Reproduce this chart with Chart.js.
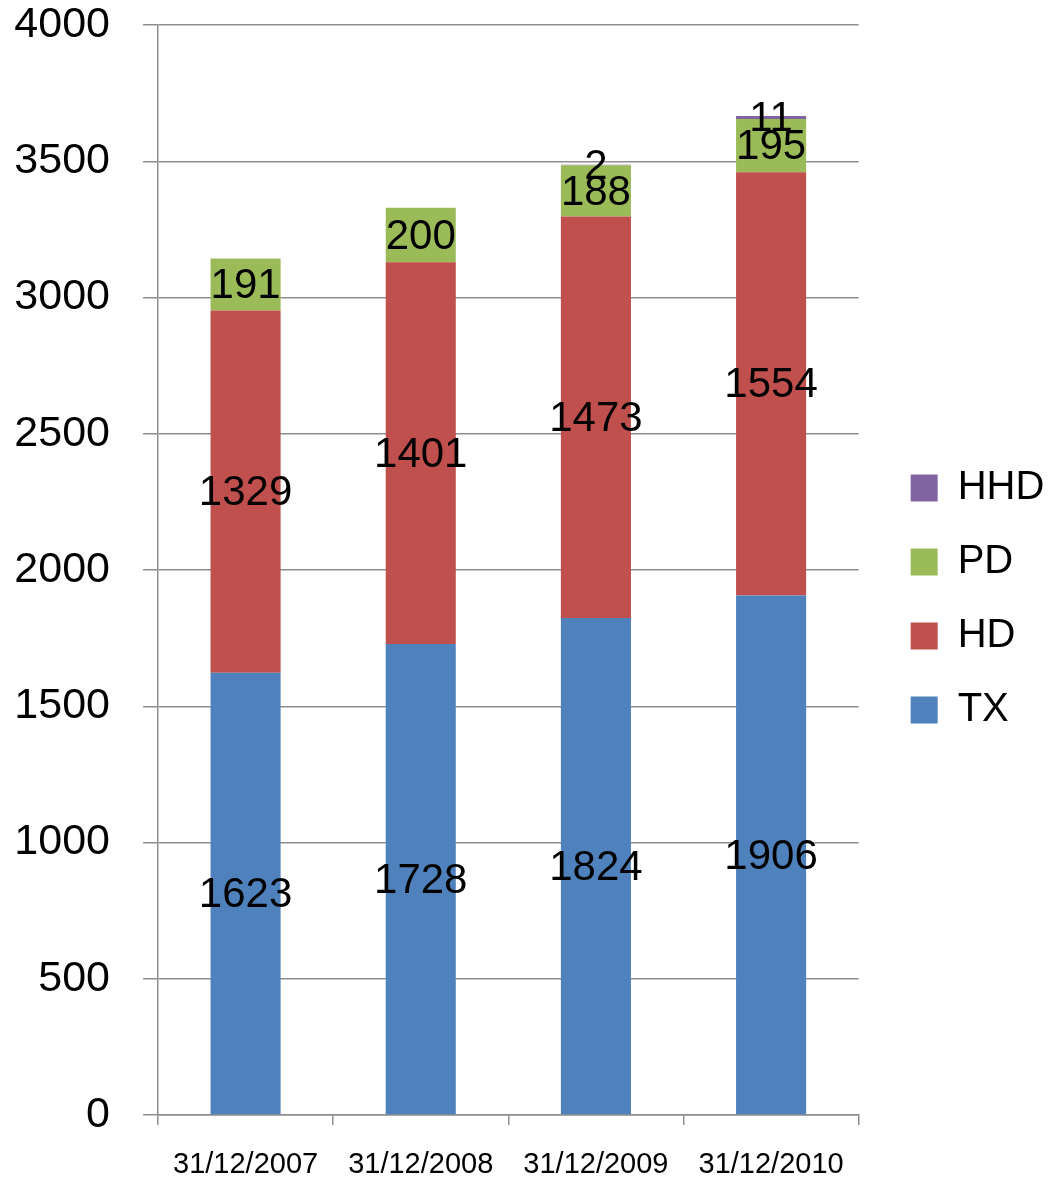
<!DOCTYPE html>
<html>
<head>
<meta charset="utf-8">
<script src="https://cdn.jsdelivr.net/npm/chart.js@4/dist/chart.umd.min.js"></script>
<style>
  body { margin: 0; background: #fff; }
</style>
</head>
<body>
<canvas id="chart" width="1049" height="1182"></canvas>
<script>
var categories = ['31/12/2007', '31/12/2008', '31/12/2009', '31/12/2010'];
var txValues = [1623, 1728, 1824, 1906];
var hdValues = [1329, 1401, 1473, 1554];
var pdValues = [191, 200, 188, 195];
var hhdValues = [null, null, 2, 11];
var yTicks = [0, 500, 1000, 1500, 2000, 2500, 3000, 3500, 4000];

var mainFont = '"Liberation Sans", Arial, sans-serif';
var gridColor = '#8e8e8e';

// draws the number in the middle of each stacked piece
var segmentLabels = {
    id: 'segmentLabels',
    afterDatasetsDraw: function (chart) {
        var ctx = chart.ctx;
        ctx.save();
        ctx.font = '42px ' + mainFont;
        ctx.fillStyle = '#000';
        ctx.textAlign = 'center';
        ctx.textBaseline = 'middle';
        chart.data.datasets.forEach(function (ds, i) {
            var meta = chart.getDatasetMeta(i);
            meta.data.forEach(function (bar, j) {
                var v = ds.data[j];
                if (v == null) return;
                ctx.fillText(String(v), bar.x, (bar.y + bar.base) / 2 + 2);
            });
        });
        ctx.restore();
    }
};

new Chart(document.getElementById('chart'), {
    type: 'bar',
    data: {
        labels: categories,
        datasets: [
            { label: 'TX', data: txValues, backgroundColor: '#4f81bd' },
            { label: 'HD', data: hdValues, backgroundColor: '#c0504d' },
            { label: 'PD', data: pdValues, backgroundColor: '#9bbb59' },
            { label: 'HHD', data: hhdValues, backgroundColor: '#8064a2' }
        ]
    },
    options: {
        responsive: false,
        animation: false,
        barPercentage: 0.8,
        categoryPercentage: 0.5,
        layout: {
            padding: { left: 15, right: 0, top: 0, bottom: 0 }
        },
        scales: {
            x: {
                stacked: true,
                afterFit: function (scale) {
                    scale.height = 67;
                    scale.paddingLeft = 0;
                    scale.paddingRight = 0;
                },
                grid: {
                    drawOnChartArea: false,
                    tickLength: 10,
                    color: gridColor,
                    lineWidth: 1.5
                },
                border: { color: gridColor, width: 1.5 },
                ticks: {
                    color: '#000',
                    padding: 23,
                    maxRotation: 0,
                    font: { family: mainFont, size: 29 }
                }
            },
            y: {
                stacked: true,
                min: 0,
                max: 4000,
                afterBuildTicks: function (scale) {
                    scale.ticks = yTicks.map(function (v) { return { value: v }; });
                },
                afterFit: function (scale) {
                    // keep the label padding from pushing the plot around
                    scale.width = 143;
                    scale.paddingTop = 25;
                    scale.paddingBottom = 25;
                },
                grid: {
                    color: gridColor,
                    lineWidth: 1.5,
                    tickLength: 15
                },
                border: { color: gridColor, width: 1.5 },
                ticks: {
                    color: '#000',
                    padding: 33,
                    font: { family: mainFont, size: 43 },
                    callback: function (value) { return String(value); }
                }
            },
            gap: {
                position: 'right',
                display: true,
                grid: { display: false },
                border: { display: false },
                ticks: { display: false },
                afterFit: function (scale) { scale.width = 18; }
            }
        },
        plugins: {
            legend: {
                position: 'right',
                reverse: true,
                title: { display: true, text: ' ', padding: 0, font: { size: 16, lineHeight: 1 } },
                labels: {
                    boxWidth: 27,
                    boxHeight: 27,
                    padding: 34,
                    color: '#000',
                    font: { family: mainFont, size: 40 }
                }
            },
            tooltip: { enabled: false }
        }
    },
    plugins: [segmentLabels]
});
</script>
</body>
</html>
